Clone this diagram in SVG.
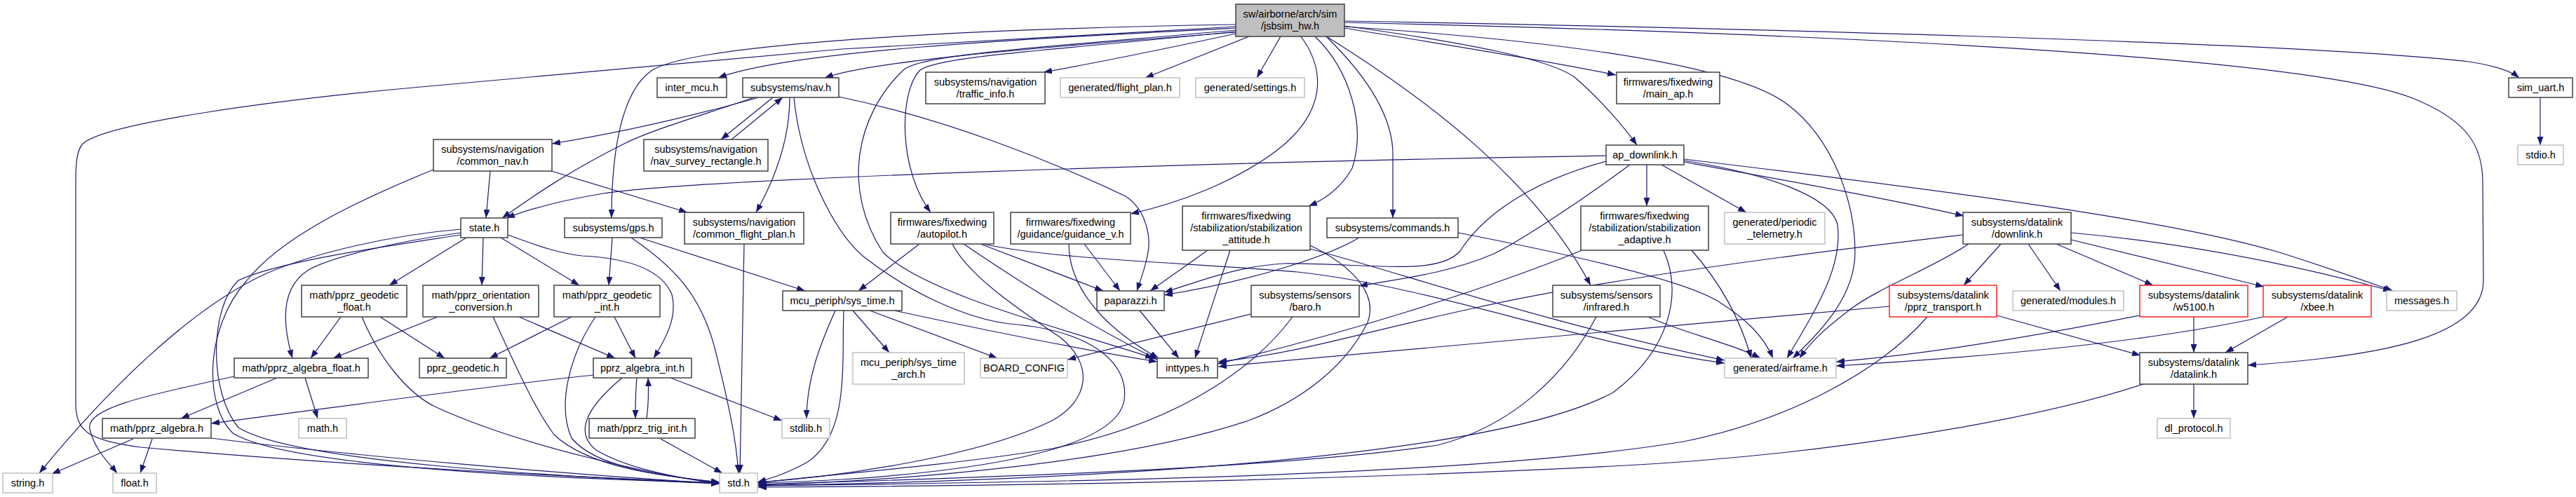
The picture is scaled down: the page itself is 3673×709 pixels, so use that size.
<svg xmlns="http://www.w3.org/2000/svg" width="3673" height="709" viewBox="0 0 3673 709">
<defs>
<style>
.e path{fill:none;stroke:#191970;stroke-width:1.2;marker-end:url(#ah)}
.nd rect{fill:#fff;stroke:#404040;stroke-width:1.5}
.g rect{stroke:#c0c0c0}
.r rect{stroke:#ff2020}
.m rect{fill:#bfbfbf}
text{font-family:"Liberation Sans",Arial,sans-serif;font-size:14.5px;text-anchor:middle;fill:#000}
</style>
<marker id="ah" markerWidth="12" markerHeight="9" refX="12" refY="4.5" orient="auto" markerUnits="userSpaceOnUse"><path d="M0,0L12,4.5L0,9z" fill="#191970"/></marker>
</defs>
<rect x="0" y="0" width="3673" height="709" fill="#fff"/>
<g id="edges" class="e">
<path d="M1762,40 C1450,56 1130,72 1024,111"/>
<path d="M1762,46 C1450,70 1240,88 1176,111"/>
<path d="M1762,35 C1450,40 1000,58 930,100 C885,130 872,220 872,311"/>
<path d="M1762,38 L1200,70 L600,124 C400,142 150,175 118,205 C109,215 108,235 108,260 L108,575 C108,615 125,628 200,638 C500,665 850,682 1026,689"/>
<path d="M1762,48 C1650,72 1550,92 1488,103"/>
<path d="M1781,52 L1633,111"/>
<path d="M1826,52 L1792,111"/>
<path d="M1917,40 C2050,62 2200,85 2304,107"/>
<path d="M1917,37 C2100,62 2210,85 2245,110 C2280,140 2315,180 2334,207"/>
<path d="M1917,30 C2500,40 3300,62 3520,88 C3560,94 3582,103 3592,111"/>
<path d="M1917,32 C2700,50 3300,85 3440,140 C3520,172 3540,210 3540,260 L3541,400 C3541,480 3400,508 3205,521"/>
<path d="M1917,38 C2250,60 2480,95 2550,150 C2615,200 2645,290 2645,360 C2645,420 2600,470 2556,511"/>
<path d="M1762,45 C1500,72 1340,80 1312,100 C1282,130 1280,240 1327,303"/>
<path d="M1762,43 C1480,68 1310,78 1288,100 C1220,165 1200,270 1259,360 C1320,420 1520,470 1645,511"/>
<path d="M1855,52 C1890,100 1892,160 1820,215 C1760,260 1680,290 1612,305"/>
<path d="M1875,52 C1925,100 1948,180 1928,240 C1912,268 1890,284 1866,294"/>
<path d="M1891,52 C1940,100 1986,160 1986,220 L1986,311"/>
<path d="M1893,53 C2040,145 2190,260 2268,407"/>
<path d="M1082,139 C1000,162 900,187 787,205"/>
<path d="M1075,139 C1000,165 930,185 890,205 C810,245 760,280 716,311"/>
<path d="M1102,139 L1028,199"/>
<path d="M1043,199 L1116,139"/>
<path d="M1126,139 C1126,200 1105,255 1078,303"/>
<path d="M1132,139 C1142,240 1190,330 1230,365 C1300,420 1380,455 1440,462 C1560,472 1610,520 1603,570 C1595,630 1450,668 1200,684 C1150,687 1110,688 1080,689"/>
<path d="M1196,138 C1350,170 1500,230 1605,280 C1635,300 1642,340 1636,365 C1632,385 1626,400 1621,415"/>
<path d="M699,244 L693,311"/>
<path d="M786,244 L980,303"/>
<path d="M618,242 C500,290 400,340 352,400 C290,470 292,580 332,618 C400,660 700,680 1026,689"/>
<path d="M2290,222 C1700,232 1000,255 860,276 C800,286 760,296 722,311"/>
<path d="M2348,235 L2348,294"/>
<path d="M2369,235 L2490,303"/>
<path d="M2401,231 C2550,258 2700,285 2800,308"/>
<path d="M2401,227 C2800,275 3100,315 3250,360 C3320,382 3370,400 3412,415"/>
<path d="M2953,332 C3100,345 3250,372 3410,415"/>
<path d="M2401,229 C2520,248 2610,280 2620,320 C2628,380 2590,440 2548,511"/>
<path d="M2290,230 C2150,268 2100,330 2082,358 C2050,395 1950,375 1830,376 C1760,380 1700,405 1660,417"/>
<path d="M2324,235 C2250,290 2165,345 2130,362 C2060,392 1990,398 1938,408"/>
<path d="M873,339 L868,407"/>
<path d="M900,339 C960,380 1000,420 1020,500 C1040,580 1050,630 1053,675"/>
<path d="M912,339 L1148,415"/>
<path d="M1061,348 C1060,450 1057,560 1055,675"/>
<path d="M657,327 C560,335 450,360 380,390 C270,440 150,560 56,675"/>
<path d="M657,332 C560,345 470,368 440,385 C400,410 402,460 417,511"/>
<path d="M657,335 C560,350 400,372 340,400 C298,440 298,560 340,610 C420,660 800,680 1026,690"/>
<path d="M665,339 L555,407"/>
<path d="M689,339 L687,407"/>
<path d="M714,339 L826,407"/>
<path d="M724,335 C770,352 800,362 830,365 C890,368 942,382 958,420 C966,452 950,482 932,511"/>
<path d="M486,452 L443,511"/>
<path d="M516,452 C540,510 580,560 620,580 C750,640 950,680 1026,690"/>
<path d="M542,452 L634,511"/>
<path d="M624,452 L475,511"/>
<path d="M703,452 C730,510 760,580 790,620 C840,668 950,680 1026,688"/>
<path d="M740,452 L877,511"/>
<path d="M815,452 L698,511"/>
<path d="M849,452 C810,510 795,580 815,625 C850,668 950,680 1026,688"/>
<path d="M876,452 L906,511"/>
<path d="M846,535 C700,550 450,585 301,604"/>
<path d="M908,539 C906,560 906,580 906,597"/>
<path d="M922,597 C925,575 925,558 924,539"/>
<path d="M887,539 C850,570 812,612 850,642 C900,672 980,683 1026,690"/>
<path d="M956,539 L1115,600"/>
<path d="M942,626 L1030,675"/>
<path d="M395,539 L258,597"/>
<path d="M435,539 L453,597"/>
<path d="M334,537 C230,560 120,580 128,612 C135,642 155,660 167,675"/>
<path d="M190,626 L74,676"/>
<path d="M217,626 L200,675"/>
<path d="M301,625 C500,650 800,676 1026,690"/>
<path d="M1191,443 C1170,490 1150,540 1150,597"/>
<path d="M1203,443 C1200,520 1212,620 1150,660 C1120,676 1100,682 1080,688"/>
<path d="M1216,443 L1268,503"/>
<path d="M1240,443 L1422,511"/>
<path d="M1275,443 C1400,470 1550,500 1650,516"/>
<path d="M1625,443 L1681,511"/>
<path d="M1311,348 L1224,415"/>
<path d="M1358,348 C1380,392 1450,440 1510,480 C1562,520 1552,572 1500,600 C1400,650 1200,680 1080,688"/>
<path d="M1374,348 C1450,400 1550,462 1650,513"/>
<path d="M1398,348 L1573,415"/>
<path d="M1402,348 C1500,370 1700,375 1850,388 C2050,410 2250,490 2459,518"/>
<path d="M1524,348 C1524,400 1560,460 1652,511"/>
<path d="M1546,348 L1597,415"/>
<path d="M1722,357 L1640,415"/>
<path d="M1754,357 C1740,400 1720,460 1704,511"/>
<path d="M1868,355 C2000,390 2200,460 2459,514"/>
<path d="M1868,350 C1930,380 1965,420 1950,460 C1920,520 1860,570 1780,600 C1600,660 1300,685 1081,692"/>
<path d="M1784,448 L1522,513"/>
<path d="M1843,452 C1800,510 1700,600 1500,640 C1350,665 1150,680 1080,689"/>
<path d="M2276,452 C2230,540 2150,610 2050,635 C1800,672 1300,684 1081,691"/>
<path d="M2350,452 C2400,475 2470,490 2510,511"/>
<path d="M1938,339 C1900,362 1800,398 1660,421"/>
<path d="M2079,332 C2250,365 2400,400 2450,430 C2490,455 2515,480 2528,511"/>
<path d="M2256,357 C2100,420 1900,480 1736,519"/>
<path d="M2412,357 C2450,400 2480,450 2497,511"/>
<path d="M2372,357 C2400,420 2380,500 2300,560 C2150,640 1700,682 1081,693"/>
<path d="M2799,335 C2600,358 2300,395 2100,440 C1950,472 1850,505 1737,516"/>
<path d="M2807,348 C2760,380 2680,410 2640,440 C2600,470 2580,490 2566,511"/>
<path d="M2853,348 L2800,407"/>
<path d="M2892,348 L2938,415"/>
<path d="M2932,348 L3070,407"/>
<path d="M2953,342 L3228,409"/>
<path d="M2694,437 C2400,462 2100,490 1737,523"/>
<path d="M2748,452 C2680,530 2550,600 2400,630 C2100,680 1500,688 1081,693"/>
<path d="M2847,450 L3052,507"/>
<path d="M3128,452 L3128,503"/>
<path d="M3051,450 C2900,480 2750,505 2618,516"/>
<path d="M3262,452 L3173,503"/>
<path d="M3227,452 C3100,480 2900,505 2618,522"/>
<path d="M3128,548 L3128,597"/>
<path d="M3056,548 C2900,600 2600,650 2300,665 C1800,690 1300,694 1081,695"/>
<path d="M3622,139 L3622,207"/>
</g>
<g id="n0" class="nd m"><rect x="1762" y="6" width="155" height="46"/><text x="1839.5" y="24.5">sw/airborne/arch/sim</text><text x="1839.5" y="41.5">/jsbsim_hw.h</text></g>
<g id="n1" class="nd"><rect x="937" y="111" width="99" height="28"/><text x="986.5" y="129.5">inter_mcu.h</text></g>
<g id="n2" class="nd"><rect x="1059" y="111" width="137" height="28"/><text x="1127.5" y="129.5">subsystems/nav.h</text></g>
<g id="n3" class="nd"><rect x="1320" y="103" width="170" height="45"/><text x="1405" y="121.5">subsystems/navigation</text><text x="1405" y="138.5">/traffic_info.h</text></g>
<g id="n4" class="nd g"><rect x="1512" y="111" width="170" height="28"/><text x="1597" y="129.5">generated/flight_plan.h</text></g>
<g id="n5" class="nd g"><rect x="1705" y="111" width="155" height="28"/><text x="1782.5" y="129.5">generated/settings.h</text></g>
<g id="n6" class="nd"><rect x="2305" y="103" width="147" height="45"/><text x="2378.5" y="121.5">firmwares/fixedwing</text><text x="2378.5" y="138.5">/main_ap.h</text></g>
<g id="n7" class="nd"><rect x="3577" y="111" width="91" height="28"/><text x="3622.5" y="129.5">sim_uart.h</text></g>
<g id="n8" class="nd"><rect x="618" y="199" width="169" height="45"/><text x="702.5" y="217.5">subsystems/navigation</text><text x="702.5" y="234.5">/common_nav.h</text></g>
<g id="n9" class="nd"><rect x="918" y="199" width="177" height="45"/><text x="1006.5" y="217.5">subsystems/navigation</text><text x="1006.5" y="234.5">/nav_survey_rectangle.h</text></g>
<g id="n10" class="nd"><rect x="2290" y="207" width="111" height="28"/><text x="2345.5" y="225.5">ap_downlink.h</text></g>
<g id="n11" class="nd g"><rect x="3590" y="207" width="65" height="28"/><text x="3622.5" y="225.5">stdio.h</text></g>
<g id="n12" class="nd"><rect x="657" y="311" width="67" height="28"/><text x="690.5" y="329.5">state.h</text></g>
<g id="n13" class="nd"><rect x="805" y="311" width="139" height="28"/><text x="874.5" y="329.5">subsystems/gps.h</text></g>
<g id="n14" class="nd"><rect x="976" y="303" width="170" height="45"/><text x="1061" y="321.5">subsystems/navigation</text><text x="1061" y="338.5">/common_flight_plan.h</text></g>
<g id="n15" class="nd"><rect x="1270" y="303" width="147" height="45"/><text x="1343.5" y="321.5">firmwares/fixedwing</text><text x="1343.5" y="338.5">/autopilot.h</text></g>
<g id="n16" class="nd"><rect x="1441" y="303" width="171" height="45"/><text x="1526.5" y="321.5">firmwares/fixedwing</text><text x="1526.5" y="338.5">/guidance/guidance_v.h</text></g>
<g id="n17" class="nd"><rect x="1686" y="294" width="182" height="63"/><text x="1777" y="312.5">firmwares/fixedwing</text><text x="1777" y="329.5">/stabilization/stabilization</text><text x="1777" y="346.5">_attitude.h</text></g>
<g id="n18" class="nd"><rect x="1892" y="311" width="187" height="28"/><text x="1985.5" y="329.5">subsystems/commands.h</text></g>
<g id="n19" class="nd"><rect x="2254" y="294" width="182" height="63"/><text x="2345" y="312.5">firmwares/fixedwing</text><text x="2345" y="329.5">/stabilization/stabilization</text><text x="2345" y="346.5">_adaptive.h</text></g>
<g id="n20" class="nd g"><rect x="2459" y="303" width="143" height="45"/><text x="2530.5" y="321.5">generated/periodic</text><text x="2530.5" y="338.5">_telemetry.h</text></g>
<g id="n21" class="nd"><rect x="2799" y="303" width="154" height="45"/><text x="2876" y="321.5">subsystems/datalink</text><text x="2876" y="338.5">/downlink.h</text></g>
<g id="n22" class="nd"><rect x="430" y="407" width="150" height="45"/><text x="505" y="425.5">math/pprz_geodetic</text><text x="505" y="442.5">_float.h</text></g>
<g id="n23" class="nd"><rect x="603" y="407" width="165" height="45"/><text x="685.5" y="425.5">math/pprz_orientation</text><text x="685.5" y="442.5">_conversion.h</text></g>
<g id="n24" class="nd"><rect x="790" y="407" width="151" height="45"/><text x="865.5" y="425.5">math/pprz_geodetic</text><text x="865.5" y="442.5">_int.h</text></g>
<g id="n25" class="nd"><rect x="1116" y="415" width="170" height="28"/><text x="1201" y="433.5">mcu_periph/sys_time.h</text></g>
<g id="n26" class="nd"><rect x="1564" y="415" width="96" height="28"/><text x="1612" y="433.5">paparazzi.h</text></g>
<g id="n27" class="nd"><rect x="1784" y="407" width="154" height="45"/><text x="1861" y="425.5">subsystems/sensors</text><text x="1861" y="442.5">/baro.h</text></g>
<g id="n28" class="nd"><rect x="2214" y="407" width="153" height="45"/><text x="2290.5" y="425.5">subsystems/sensors</text><text x="2290.5" y="442.5">/infrared.h</text></g>
<g id="n29" class="nd r"><rect x="2694" y="407" width="153" height="45"/><text x="2770.5" y="425.5">subsystems/datalink</text><text x="2770.5" y="442.5">/pprz_transport.h</text></g>
<g id="n30" class="nd g"><rect x="2870" y="415" width="158" height="28"/><text x="2949" y="433.5">generated/modules.h</text></g>
<g id="n31" class="nd r"><rect x="3051" y="407" width="154" height="45"/><text x="3128" y="425.5">subsystems/datalink</text><text x="3128" y="442.5">/w5100.h</text></g>
<g id="n32" class="nd r"><rect x="3227" y="407" width="154" height="45"/><text x="3304" y="425.5">subsystems/datalink</text><text x="3304" y="442.5">/xbee.h</text></g>
<g id="n33" class="nd g"><rect x="3403" y="415" width="100" height="28"/><text x="3453" y="433.5">messages.h</text></g>
<g id="n34" class="nd"><rect x="334" y="511" width="191" height="28"/><text x="429.5" y="529.5">math/pprz_algebra_float.h</text></g>
<g id="n35" class="nd"><rect x="598" y="511" width="124" height="28"/><text x="660" y="529.5">pprz_geodetic.h</text></g>
<g id="n36" class="nd"><rect x="846" y="511" width="140" height="28"/><text x="916" y="529.5">pprz_algebra_int.h</text></g>
<g id="n37" class="nd g"><rect x="1115" y="597" width="68" height="28"/><text x="1149" y="615.5">stdlib.h</text></g>
<g id="n38" class="nd g"><rect x="1216" y="503" width="159" height="45"/><text x="1295.5" y="521.5">mcu_periph/sys_time</text><text x="1295.5" y="538.5">_arch.h</text></g>
<g id="n39" class="nd g"><rect x="1398" y="511" width="124" height="28"/><text x="1460" y="529.5">BOARD_CONFIG</text></g>
<g id="n40" class="nd"><rect x="1650" y="511" width="86" height="28"/><text x="1693" y="529.5">inttypes.h</text></g>
<g id="n41" class="nd g"><rect x="2459" y="511" width="159" height="28"/><text x="2538.5" y="529.5">generated/airframe.h</text></g>
<g id="n42" class="nd"><rect x="3051" y="503" width="154" height="45"/><text x="3128" y="521.5">subsystems/datalink</text><text x="3128" y="538.5">/datalink.h</text></g>
<g id="n43" class="nd"><rect x="146" y="597" width="155" height="28"/><text x="223.5" y="615.5">math/pprz_algebra.h</text></g>
<g id="n44" class="nd g"><rect x="426" y="597" width="68" height="28"/><text x="460" y="615.5">math.h</text></g>
<g id="n45" class="nd"><rect x="840" y="597" width="151" height="28"/><text x="915.5" y="615.5">math/pprz_trig_int.h</text></g>
<g id="n46" class="nd g"><rect x="4" y="675" width="71" height="28"/><text x="39.5" y="693.5">string.h</text></g>
<g id="n47" class="nd g"><rect x="161" y="675" width="62" height="28"/><text x="192" y="693.5">float.h</text></g>
<g id="n48" class="nd g"><rect x="1026" y="675" width="54" height="28"/><text x="1053" y="693.5">std.h</text></g>
<g id="n49" class="nd g"><rect x="3076" y="597" width="104" height="28"/><text x="3128" y="615.5">dl_protocol.h</text></g>
</svg>
